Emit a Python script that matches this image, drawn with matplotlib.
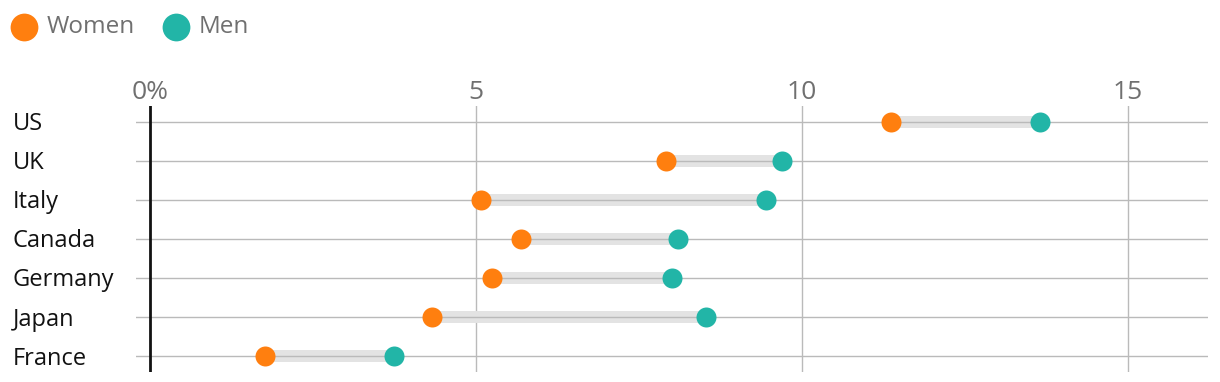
import matplotlib
matplotlib.use('Agg')
import matplotlib.pyplot as plt
import matplotlib.transforms as mtransforms
from matplotlib.lines import Line2D

plt.rcParams['font.family'] = ['Open Sans', 'DejaVu Sans']

countries = ['US', 'UK', 'Italy', 'Canada', 'Germany', 'Japan', 'France']
women = [11.37, 7.91, 5.08, 5.69, 5.25, 4.33, 1.77]
men = [13.65, 9.69, 9.45, 8.10, 8.00, 8.53, 3.74]
xticks = [0, 5, 10, 15]
xticklabels = ['0%', '5', '10', '15']

c_women = '#ff7f0f'
c_men = '#22b5a7'
grid_c = '#bababa'

W, H = 1220, 382
fig = plt.figure(figsize=(W / 100, H / 100), dpi=100)
ax = fig.add_axes([136 / W, (H - 372) / H, (1208 - 136) / W, (372 - 106) / H])

ypos = list(range(len(countries)))
ax.set_xlim(-0.215, 16.23)
ax.set_ylim(6.41, -0.40)

# grid
for y in ypos:
    ax.axhline(y, color=grid_c, lw=1.0, zorder=2)
for x in xticks[1:]:
    ax.axvline(x, color=grid_c, lw=1.0, zorder=1)
ax.axvline(0, color='#121212', lw=2.0, zorder=3)

# connectors and dots
for y, w, m in zip(ypos, women, men):
    ax.plot([w, m], [y, y], color='#e3e3e3', lw=8.6, solid_capstyle='butt', zorder=1.5)
ax.scatter(women, ypos, s=14.4 ** 2, color=c_women, zorder=4, linewidths=0)
ax.scatter(men, ypos, s=14.4 ** 2, color=c_men, zorder=4, linewidths=0)

for s in ax.spines.values():
    s.set_visible(False)
ax.set_yticks([])
ax.xaxis.tick_top()
ax.set_xticks(xticks)
ax.set_xticklabels(xticklabels, fontsize=19, color='#707070')
ax.tick_params(axis='x', length=0, pad=1)

# country labels
trans = mtransforms.blended_transform_factory(fig.transFigure, ax.transData)
for y, name in zip(ypos, countries):
    fig.text(13 / W, y + 0.22, name, transform=trans, fontsize=17,
             color='#121212', ha='left', va='baseline')

# legend
for cx, tx, label, col in [(24, 47, 'Women', c_women), (176, 199, 'Men', c_men)]:
    fig.add_artist(Line2D([cx / W], [1 - 27 / H], marker='o', ms=20, color=col,
                          markeredgewidth=0, transform=fig.transFigure))
    fig.text(tx / W, 1 - 27 / H, label, fontsize=17.5, color='#707070',
             ha='left', va='center')

fig.savefig('out.png', dpi=100)
